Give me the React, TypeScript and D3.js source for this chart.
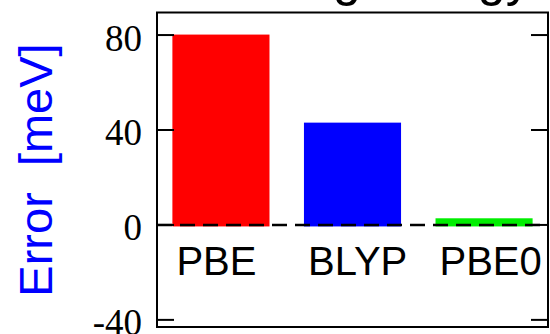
import { useRef, useEffect } from 'react';
import * as d3 from 'd3';

// functional error data
const methods = ['PBE', 'BLYP', 'PBE0'];
const errors = [80.2, 43.1, 2.8];
const barColors = ['#ff0000', '#0000ff', '#00ee00'];
const yTicks = [80, 40, 0, -40];

export default function App() {
  const svgRef = useRef(null);
  const width = 550, height = 334;
  const frame = { left: 157, right: 548, top: 12.5, bottom: 327 };

  useEffect(() => {
    const svg = d3.select(svgRef.current);
    svg.selectAll('*').remove();

    const x = d3.scaleBand()
      .domain(methods)
      .range([frame.left, frame.right])
      .paddingInner(0.262)
      .paddingOuter(0.117);
    const y = d3.scaleLinear().domain([-43, 89.5]).range([frame.bottom, frame.top]);

    // title (mostly above the visible area)
    svg.append('text')
      .attr('x', 191)
      .attr('y', -5.5)
      .attr('font-family', 'Liberation Sans, Arial, sans-serif')
      .attr('font-size', 51)
      .attr('fill', '#000')
      .text('Binding energy');

    // bars
    svg.selectAll('rect.bar')
      .data(methods)
      .join('rect')
      .attr('class', 'bar')
      .attr('x', d => x(d))
      .attr('width', x.bandwidth())
      .attr('y', (d, i) => y(errors[i]))
      .attr('height', (d, i) => y(0) - y(errors[i]) + 1.5)
      .attr('fill', (d, i) => barColors[i]);

    // zero line, dashed
    svg.append('line')
      .attr('x1', frame.left).attr('x2', frame.right)
      .attr('y1', y(0)).attr('y2', y(0))
      .attr('stroke', '#000')
      .attr('stroke-width', 2.5)
      .attr('stroke-dasharray', '15,8');

    // ticks on both sides, pointing inward
    const tickLen = 17;
    svg.selectAll('line.ltick')
      .data(yTicks)
      .join('line')
      .attr('class', 'ltick')
      .attr('x1', frame.left).attr('x2', frame.left + tickLen)
      .attr('y1', d => y(d)).attr('y2', d => y(d))
      .attr('stroke', '#000').attr('stroke-width', 2);
    svg.selectAll('line.rtick')
      .data(yTicks)
      .join('line')
      .attr('class', 'rtick')
      .attr('x1', frame.right - tickLen).attr('x2', frame.right)
      .attr('y1', d => y(d)).attr('y2', d => y(d))
      .attr('stroke', '#000').attr('stroke-width', 2);

    // tick labels
    svg.selectAll('text.ylab')
      .data(yTicks)
      .join('text')
      .attr('class', 'ylab')
      .attr('x', 142)
      .attr('y', d => y(d) + 15.5)
      .attr('text-anchor', 'end')
      .attr('font-family', 'Liberation Serif, Times New Roman, serif')
      .attr('font-size', 37)
      .attr('fill', '#000')
      .text(d => d);

    // frame
    svg.append('rect')
      .attr('x', frame.left).attr('y', frame.top)
      .attr('width', frame.right - frame.left)
      .attr('height', frame.bottom - frame.top)
      .attr('fill', 'none')
      .attr('stroke', '#000')
      .attr('stroke-width', 2);

    // category labels inside the plot
    svg.selectAll('text.xlab')
      .data(methods)
      .join('text')
      .attr('class', 'xlab')
      .attr('x', d => x(d) + 4)
      .attr('y', 275)
      .attr('font-family', 'Liberation Sans, Arial, sans-serif')
      .attr('font-size', 40)
      .attr('fill', '#000')
      .text(d => d);

    // y axis title
    svg.append('text')
      .attr('transform', 'translate(52,170) rotate(-90)')
      .attr('text-anchor', 'middle')
      .attr('font-family', 'Liberation Sans, Arial, sans-serif')
      .attr('font-size', 47)
      .attr('fill', '#0000ff')
      .style('white-space', 'pre')
      .text('Error  [meV]');
  }, []);

  return (
    <svg
      ref={svgRef}
      width={width}
      height={height}
      style={{ position: 'absolute', left: 0, top: 0, background: '#fff' }}
    />
  );
}
